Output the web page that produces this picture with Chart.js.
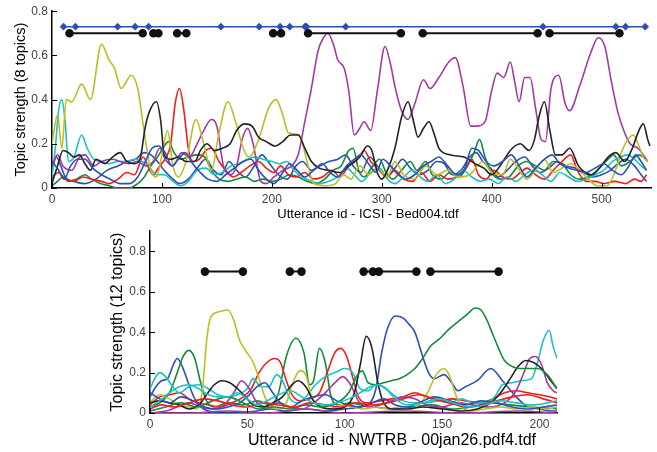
<!DOCTYPE html>
<html>
<head>
<meta charset="utf-8">
<script src="https://cdn.jsdelivr.net/npm/chart.js@4.4.1/dist/chart.umd.min.js"></script>
<style>
  body { margin: 0; background: #fff; width: 657px; height: 452px; position: relative; overflow: hidden; font-family: "Liberation Sans", Arial, sans-serif; }
  .box { position: absolute; }
  .xtitle { position: absolute; white-space: nowrap; transform: translateX(-50%); color: #000; }
</style>
</head>
<body>
<div class="box" style="left:0;top:0;width:657px;height:225px"><canvas id="topChart" width="657" height="225"></canvas></div>
<div class="box" style="left:100px;top:220px;width:470px;height:232px"><canvas id="bottomChart" width="470" height="232"></canvas></div>
<div class="xtitle" style="left:368px;top:206px;font-size:13px;line-height:16px">Utterance id - ICSI - Bed004.tdf</div>
<div class="xtitle" style="left:392px;top:430px;font-size:16px;line-height:19px">Utterance id - NWTRB - 00jan26.pdf4.tdf</div>
<script>
// ---- top plot: ICSI Bed004, 8 topics, [utterance, strength] ----
const topBlue1 = [[0,0.08],[4,0.14],[8,0.10],[12,0.05],[20,0.03],[30,0.02],[40,0.04],[50,0.08],[60,0.10],[68,0.12],[76,0.13],[84,0.16],[90,0.15],[96,0.12],[102,0.08],[110,0.04],[116,0.02],[124,0.04],[132,0.09],[140,0.13],[147,0.08],[154,0.06],[161,0.12],[168,0.08],[176,0.05],[184,0.10],[191,0.15],[198,0.11],[206,0.06],[214,0.04],[222,0.10],[228,0.12],[236,0.08],[244,0.10],[252,0.12],[260,0.13],[267,0.15],[274,0.10],[281,0.07],[289,0.14],[296,0.10],[304,0.05],[312,0.09],[319,0.13],[326,0.09],[334,0.06],[342,0.08],[350,0.12],[357,0.11],[364,0.06],[372,0.08],[380,0.14],[386,0.16],[392,0.12],[399,0.09],[406,0.05],[414,0.08],[422,0.12],[430,0.14],[437,0.10],[444,0.07],[452,0.09],[460,0.12],[468,0.10],[476,0.09],[484,0.07],[492,0.05],[500,0.06],[508,0.08],[515,0.11],[522,0.13],[530,0.10],[536,0.06],[541,0.03]];
const topGreen = [[0,0.01],[5,0.03],[10,0.05],[15,0.03],[22,0.04],[30,0.06],[36,0.04],[44,0.02],[52,0.01],[60,0.00],[70,0.00],[78,0.02],[84,0.05],[90,0.10],[96,0.14],[101,0.18],[106,0.21],[111,0.16],[117,0.13],[124,0.14],[132,0.15],[139,0.14],[145,0.08],[152,0.04],[160,0.03],[168,0.04],[176,0.05],[184,0.03],[192,0.04],[200,0.03],[208,0.04],[216,0.06],[224,0.05],[232,0.03],[240,0.02],[248,0.04],[256,0.08],[263,0.10],[270,0.17],[274,0.18],[279,0.08],[284,0.05],[292,0.10],[298,0.13],[304,0.07],[310,0.04],[318,0.08],[326,0.12],[332,0.08],[340,0.12],[346,0.06],[354,0.04],[362,0.07],[370,0.05],[378,0.10],[384,0.16],[389,0.22],[394,0.14],[400,0.07],[408,0.04],[416,0.05],[424,0.10],[432,0.12],[440,0.10],[448,0.08],[456,0.12],[464,0.11],[472,0.06],[480,0.04],[488,0.05],[496,0.08],[504,0.12],[511,0.15],[518,0.10],[526,0.12],[534,0.15],[541,0.13]];
const topRed = [[0,0.05],[6,0.07],[12,0.04],[20,0.03],[28,0.05],[36,0.04],[45,0.03],[52,0.02],[60,0.04],[68,0.07],[75,0.06],[83,0.14],[88,0.09],[92,0.06],[98,0.10],[104,0.14],[108,0.20],[112,0.38],[116,0.45],[120,0.35],[124,0.18],[128,0.12],[134,0.13],[140,0.17],[145,0.18],[152,0.12],[158,0.08],[165,0.05],[172,0.07],[180,0.10],[188,0.12],[195,0.09],[202,0.07],[208,0.10],[215,0.06],[222,0.05],[230,0.07],[238,0.04],[246,0.05],[255,0.08],[262,0.05],[270,0.10],[278,0.13],[284,0.17],[290,0.12],[298,0.08],[305,0.05],[312,0.08],[320,0.04],[328,0.03],[336,0.07],[344,0.03],[352,0.06],[360,0.04],[368,0.05],[376,0.09],[382,0.13],[388,0.06],[395,0.04],[402,0.08],[410,0.05],[418,0.04],[426,0.07],[432,0.09],[440,0.06],[448,0.04],[456,0.08],[464,0.12],[472,0.15],[478,0.08],[486,0.03],[494,0.03],[502,0.02],[512,0.03],[522,0.02],[530,0.04],[536,0.03],[541,0.06]];
const topCyan = [[0,0.05],[3,0.18],[6,0.35],[9,0.40],[12,0.30],[15,0.12],[20,0.14],[27,0.24],[32,0.18],[38,0.13],[45,0.12],[52,0.11],[60,0.12],[68,0.12],[75,0.13],[82,0.12],[88,0.10],[95,0.06],[102,0.06],[110,0.03],[117,0.01],[124,0.03],[132,0.08],[140,0.09],[148,0.06],[155,0.07],[163,0.10],[170,0.11],[178,0.13],[185,0.14],[192,0.13],[200,0.12],[207,0.11],[214,0.12],[220,0.08],[228,0.05],[236,0.03],[244,0.02],[252,0.03],[260,0.05],[268,0.09],[275,0.06],[282,0.03],[290,0.07],[298,0.09],[305,0.04],[312,0.02],[320,0.05],[328,0.08],[335,0.05],[342,0.03],[350,0.06],[358,0.02],[366,0.04],[374,0.08],[382,0.05],[390,0.03],[398,0.04],[406,0.02],[414,0.05],[422,0.03],[430,0.06],[438,0.08],[446,0.06],[454,0.03],[462,0.07],[470,0.05],[478,0.03],[486,0.04],[494,0.06],[502,0.08],[510,0.12],[517,0.14],[524,0.15],[530,0.13],[536,0.10],[541,0.08]];
const topMagenta = [[0,0.10],[5,0.15],[10,0.10],[18,0.08],[25,0.14],[30,0.15],[38,0.10],[45,0.12],[55,0.13],[62,0.12],[70,0.11],[78,0.12],[85,0.10],[92,0.12],[98,0.18],[103,0.13],[110,0.10],[118,0.16],[125,0.14],[132,0.20],[138,0.26],[145,0.31],[150,0.28],[156,0.10],[162,0.06],[168,0.10],[173,0.22],[178,0.27],[183,0.20],[190,0.03],[195,0.02],[202,0.05],[210,0.08],[218,0.10],[224,0.15],[230,0.30],[236,0.45],[242,0.62],[247,0.68],[251,0.70],[256,0.65],[260,0.58],[266,0.54],[270,0.44],[275,0.24],[280,0.27],[284,0.30],[290,0.26],[296,0.44],[303,0.64],[308,0.56],[312,0.46],[318,0.35],[324,0.31],[330,0.38],[338,0.49],[344,0.45],[352,0.50],[361,0.57],[367,0.59],[374,0.46],[381,0.28],[387,0.28],[394,0.30],[400,0.44],[405,0.52],[411,0.50],[417,0.57],[421,0.48],[425,0.39],[430,0.50],[435,0.50],[440,0.36],[445,0.22],[449,0.21],[454,0.45],[461,0.51],[467,0.38],[471,0.35],[480,0.46],[490,0.61],[497,0.68],[503,0.64],[509,0.48],[515,0.34],[521,0.25],[526,0.20],[533,0.18],[538,0.15],[542,0.12]];
const topYellow = [[0,0.20],[5,0.33],[9,0.18],[13,0.40],[18,0.39],[27,0.47],[35,0.40],[45,0.65],[52,0.58],[57,0.54],[63,0.45],[72,0.51],[78,0.45],[84,0.25],[90,0.08],[95,0.05],[100,0.15],[105,0.26],[110,0.10],[115,0.05],[122,0.12],[131,0.31],[138,0.20],[145,0.08],[152,0.25],[160,0.39],[167,0.30],[174,0.18],[179,0.14],[188,0.22],[197,0.36],[204,0.40],[210,0.33],[215,0.25],[225,0.24],[232,0.12],[238,0.02],[250,0.01],[258,0.02],[265,0.06],[272,0.04],[280,0.10],[288,0.06],[296,0.09],[305,0.05],[312,0.12],[320,0.06],[330,0.04],[340,0.10],[350,0.06],[360,0.08],[370,0.05],[380,0.06],[392,0.12],[400,0.07],[410,0.06],[417,0.13],[424,0.09],[432,0.04],[440,0.08],[448,0.13],[456,0.07],[464,0.09],[472,0.11],[480,0.08],[488,0.04],[496,0.01],[505,0.01],[512,0.07],[518,0.16],[524,0.22],[529,0.24],[534,0.19],[538,0.14],[542,0.12]];
const topBlack = [[0,0.02],[5,0.10],[10,0.17],[15,0.16],[20,0.14],[25,0.15],[30,0.11],[35,0.08],[40,0.13],[48,0.11],[55,0.14],[62,0.16],[68,0.12],[75,0.11],[80,0.13],[85,0.28],[89,0.35],[95,0.39],[99,0.30],[102,0.15],[108,0.13],[115,0.14],[122,0.12],[130,0.12],[135,0.17],[141,0.20],[148,0.17],[155,0.18],[162,0.20],[168,0.26],[175,0.29],[182,0.28],[188,0.23],[195,0.21],[203,0.19],[210,0.21],[217,0.24],[224,0.24],[230,0.18],[236,0.12],[243,0.09],[252,0.08],[262,0.07],[270,0.10],[280,0.14],[287,0.19],[291,0.17],[296,0.07],[300,0.04],[306,0.09],[312,0.18],[318,0.32],[324,0.39],[329,0.30],[333,0.23],[338,0.27],[343,0.30],[348,0.24],[352,0.18],[362,0.15],[375,0.14],[385,0.11],[393,0.09],[400,0.06],[409,0.11],[417,0.17],[426,0.20],[434,0.17],[439,0.22],[443,0.32],[448,0.39],[453,0.26],[458,0.15],[464,0.15],[471,0.18],[479,0.10],[485,0.07],[491,0.06],[498,0.09],[506,0.14],[513,0.16],[521,0.12],[528,0.18],[534,0.26],[538,0.29],[542,0.22],[544,0.19]];
const topBlue2 = [[0,0.12],[6,0.08],[11,0.04],[17,0.10],[23,0.13],[30,0.13],[37,0.09],[45,0.06],[53,0.04],[62,0.02],[70,0.02],[78,0.05],[85,0.12],[91,0.18],[97,0.19],[103,0.16],[109,0.10],[115,0.13],[121,0.16],[128,0.11],[135,0.07],[142,0.04],[150,0.03],[158,0.06],[166,0.09],[174,0.12],[181,0.13],[188,0.08],[195,0.04],[202,0.02],[210,0.07],[216,0.11],[223,0.08],[230,0.05],[238,0.08],[246,0.11],[253,0.07],[260,0.05],[268,0.10],[275,0.13],[281,0.15],[288,0.11],[295,0.07],[301,0.13],[308,0.10],[315,0.06],[322,0.04],[330,0.06],[338,0.10],[345,0.12],[352,0.14],[360,0.10],[368,0.06],[375,0.08],[382,0.18],[388,0.17],[395,0.12],[402,0.10],[410,0.12],[418,0.15],[425,0.10],[432,0.05],[440,0.09],[448,0.13],[455,0.15],[462,0.11],[470,0.09],[478,0.08],[486,0.07],[494,0.09],[502,0.11],[510,0.08],[518,0.06],[525,0.10],[531,0.15],[536,0.12],[541,0.08]];

// boundary markers (stars) and segment pairs (dots joined by a line)
const topStarLevel = 0.73;
const topStarU = [10.5, 21.3, 59.7, 75.6, 87.9, 153.7, 188.5, 207.5, 216.3, 230.2, 231.5, 267.2, 446.7, 513, 521.8, 539.7];
const topSegLevel = 0.70;
const topSegStart = [15.9, 92.2, 113.9, 201.2, 233, 337.3, 452.7];
const topSegEnd = [82.5, 96.8, 122.2, 208.4, 317.4, 441.8, 516.3];

// ---- bottom plot: NWTRB 00jan26, 12 topics ----
const botBlue1 = [[0,0.08],[3,0.13],[6,0.16],[9,0.17],[12,0.24],[14,0.27],[17,0.22],[20,0.14],[23,0.07],[26,0.03],[30,0.01],[36,0.00],[45,0.00],[55,0.01],[62,0.02],[70,0.01],[80,0.02],[90,0.01],[100,0.02],[108,0.03],[113,0.05],[116,0.12],[119,0.30],[122,0.42],[126,0.48],[130,0.47],[133,0.44],[136,0.40],[140,0.28],[143,0.20],[146,0.17],[151,0.19],[155,0.15],[158,0.11],[162,0.13],[168,0.16],[175,0.22],[181,0.16],[188,0.08],[194,0.03],[200,0.02],[205,0.01],[209,0.01]];
const botGreen1 = [[0,0.03],[5,0.05],[10,0.10],[14,0.20],[17,0.28],[20,0.31],[23,0.27],[26,0.15],[29,0.06],[33,0.03],[40,0.05],[48,0.04],[55,0.06],[62,0.04],[66,0.10],[70,0.28],[75,0.37],[79,0.30],[82,0.14],[84,0.16],[87,0.32],[90,0.25],[93,0.08],[97,0.04],[103,0.05],[108,0.04],[115,0.03],[125,0.02],[135,0.03],[145,0.04],[155,0.02],[165,0.03],[175,0.05],[185,0.04],[195,0.03],[209,0.02]];
const botRed1 = [[0,0.04],[5,0.08],[10,0.09],[15,0.10],[20,0.07],[25,0.05],[30,0.04],[36,0.03],[42,0.05],[48,0.08],[52,0.12],[56,0.20],[60,0.25],[64,0.27],[67,0.25],[70,0.16],[73,0.09],[77,0.06],[82,0.07],[87,0.10],[91,0.20],[95,0.30],[98,0.32],[101,0.28],[104,0.18],[107,0.08],[112,0.05],[118,0.06],[124,0.07],[130,0.08],[136,0.10],[142,0.08],[148,0.06],[155,0.07],[162,0.06],[170,0.05],[176,0.07],[182,0.10],[188,0.11],[194,0.10],[200,0.09],[205,0.08],[209,0.07]];
const botCyan1 = [[0,0.12],[3,0.18],[5,0.20],[8,0.18],[11,0.14],[15,0.10],[20,0.13],[25,0.14],[30,0.12],[35,0.09],[40,0.08],[45,0.09],[50,0.12],[53,0.17],[57,0.13],[61,0.13],[65,0.19],[68,0.16],[72,0.07],[76,0.05],[80,0.08],[85,0.14],[90,0.18],[95,0.20],[100,0.22],[104,0.20],[108,0.12],[112,0.11],[116,0.14],[120,0.13],[125,0.09],[130,0.06],[136,0.05],[142,0.05],[148,0.06],[154,0.05],[160,0.07],[166,0.05],[172,0.05],[177,0.08],[181,0.14],[186,0.15],[191,0.16],[196,0.17],[199,0.25],[202,0.36],[205,0.41],[207,0.33],[209,0.27]];
const botMagenta1 = [[0,0.00],[8,0.01],[14,0.03],[20,0.05],[26,0.03],[32,0.02],[38,0.04],[43,0.10],[47,0.16],[51,0.12],[55,0.05],[60,0.03],[66,0.05],[72,0.03],[78,0.02],[84,0.05],[90,0.10],[95,0.15],[99,0.18],[103,0.14],[107,0.06],[112,0.03],[118,0.04],[124,0.06],[130,0.08],[136,0.07],[142,0.04],[150,0.03],[158,0.05],[166,0.04],[174,0.03],[182,0.05],[188,0.11],[192,0.20],[195,0.27],[198,0.28],[201,0.24],[204,0.15],[207,0.11],[209,0.10]];
const botYellow = [[0,0.05],[5,0.09],[10,0.07],[15,0.04],[20,0.03],[24,0.02],[27,0.12],[29,0.35],[31,0.47],[35,0.50],[40,0.51],[43,0.46],[46,0.36],[49,0.31],[53,0.25],[56,0.17],[59,0.08],[62,0.03],[66,0.02],[70,0.05],[73,0.14],[77,0.21],[80,0.19],[83,0.08],[87,0.03],[92,0.02],[98,0.04],[104,0.03],[110,0.02],[116,0.03],[122,0.02],[128,0.03],[134,0.02],[139,0.05],[143,0.11],[147,0.19],[151,0.22],[154,0.18],[157,0.09],[160,0.03],[165,0.01],[172,0.02],[180,0.03],[188,0.02],[196,0.03],[204,0.02],[209,0.03]];
const botBlack = [[0,0.05],[5,0.06],[10,0.05],[15,0.04],[20,0.02],[25,0.04],[29,0.09],[33,0.14],[37,0.16],[41,0.15],[45,0.12],[49,0.08],[53,0.04],[58,0.03],[63,0.05],[68,0.08],[72,0.13],[76,0.16],[80,0.13],[84,0.06],[88,0.03],[94,0.02],[100,0.03],[105,0.10],[108,0.24],[111,0.38],[114,0.32],[117,0.15],[120,0.05],[125,0.02],[132,0.02],[140,0.03],[150,0.02],[160,0.01],[168,0.02],[175,0.05],[180,0.10],[185,0.17],[189,0.23],[193,0.26],[197,0.25],[201,0.22],[205,0.17],[209,0.12]];
const botBlue2 = [[0,0.10],[5,0.07],[10,0.05],[16,0.08],[22,0.06],[28,0.03],[34,0.02],[40,0.03],[46,0.05],[51,0.09],[55,0.13],[59,0.15],[63,0.10],[67,0.05],[72,0.03],[78,0.06],[84,0.08],[90,0.09],[96,0.06],[102,0.04],[108,0.03],[114,0.05],[120,0.07],[126,0.04],[132,0.03],[138,0.05],[146,0.08],[154,0.06],[162,0.04],[170,0.06],[178,0.05],[186,0.03],[194,0.02],[202,0.03],[209,0.04]];
const botGreen2 = [[0,0.01],[8,0.03],[16,0.05],[24,0.03],[32,0.06],[40,0.08],[48,0.05],[56,0.02],[64,0.03],[72,0.02],[80,0.04],[88,0.03],[96,0.05],[102,0.10],[106,0.18],[109,0.21],[112,0.15],[116,0.14],[120,0.15],[124,0.16],[128,0.17],[132,0.19],[136,0.22],[140,0.27],[144,0.33],[149,0.37],[153,0.41],[158,0.45],[163,0.49],[167,0.52],[170,0.51],[173,0.46],[176,0.39],[179,0.32],[182,0.26],[186,0.23],[190,0.22],[195,0.22],[199,0.22],[204,0.19],[207,0.15],[209,0.12]];
const botRed2 = [[0,0.02],[6,0.04],[12,0.03],[20,0.05],[28,0.07],[35,0.06],[42,0.04],[50,0.03],[58,0.05],[66,0.04],[74,0.03],[82,0.05],[90,0.04],[98,0.03],[106,0.05],[114,0.04],[122,0.05],[130,0.07],[138,0.09],[146,0.07],[154,0.05],[162,0.03],[170,0.04],[178,0.06],[186,0.08],[194,0.09],[202,0.07],[209,0.05]];
const botCyan2 = [[0,0.03],[5,0.06],[10,0.10],[15,0.13],[20,0.14],[25,0.12],[30,0.09],[35,0.08],[40,0.08],[45,0.10],[50,0.07],[55,0.04],[60,0.06],[66,0.09],[72,0.11],[78,0.08],[84,0.05],[90,0.04],[96,0.05],[102,0.07],[108,0.10],[113,0.13],[117,0.14],[121,0.12],[126,0.07],[132,0.04],[140,0.05],[148,0.07],[156,0.05],[164,0.03],[172,0.04],[180,0.06],[188,0.05],[196,0.04],[204,0.05],[209,0.06]];
const botMagenta2 = [[0,0.00],[20,0.00],[40,0.01],[60,0.00],[80,0.02],[100,0.00],[130,0.01],[160,0.00],[190,0.01],[209,0.00]];

const botSegLevel = 0.70;
const botSegStart = [28.2, 71.8, 109.7, 117.5, 144];
const botSegEnd = [47.7, 77.8, 114.5, 136.8, 179];

// matlab-ish colour order b g r c m y k
const BLUE = '#2c4fb3', GREEN = '#138a3a', RED = '#f21c1c', CYAN = '#1cc2c2',
      MAGENTA = '#a33aa3', YELLOW = '#bdbd24', BLACK = '#222222';
const FONT = "'Liberation Sans', Arial, sans-serif";
Chart.defaults.font.family = FONT;

// ticks pointing into the plot, like matlab
const innerTicks = {
  id: 'innerTicks',
  afterDraw(chart) {
    const { ctx, chartArea, scales } = chart;
    ctx.save();
    ctx.strokeStyle = '#000';
    ctx.lineWidth = 1;
    ctx.beginPath();
    scales.x.ticks.forEach(t => {
      const px = Math.round(scales.x.getPixelForValue(t.value)) + 0.5;
      ctx.moveTo(px, chartArea.bottom);
      ctx.lineTo(px, chartArea.bottom - 5);
    });
    scales.y.ticks.forEach(t => {
      const py = Math.round(scales.y.getPixelForValue(t.value)) + 0.5;
      ctx.moveTo(chartArea.left, py);
      ctx.lineTo(chartArea.left + 5, py);
    });
    ctx.stroke();
    ctx.restore();
  }
};

function segmentPoints(starts, ends, level) {
  const pts = [];
  starts.forEach((s, i) => {
    pts.push({ x: s, y: level }, { x: ends[i], y: level }, { x: ends[i], y: null });
  });
  return pts;
}

function makeChart(id, cfg) {
  const datasets = cfg.series.map((pts, i) => ({
    data: pts.map(([x, y]) => ({ x, y })),
    borderColor: cfg.colors[i],
    borderWidth: 1.6,
    pointRadius: 0,
    cubicInterpolationMode: 'monotone',
    fill: false
  }));
  if (cfg.stars) {
    datasets.push({
      data: cfg.stars.u.map(u => ({ x: u, y: cfg.stars.level })),
      borderColor: BLUE,
      backgroundColor: BLUE,
      borderWidth: 1.5,
      pointStyle: 'rectRot',
      pointRadius: 2.8,
      tension: 0
    });
  }
  datasets.push({
    data: segmentPoints(cfg.seg.start, cfg.seg.end, cfg.seg.level),
    borderColor: '#111',
    backgroundColor: '#111',
    borderWidth: 2,
    pointStyle: 'circle',
    pointRadius: 3.3,
    tension: 0,
    spanGaps: false
  });
  // chart.js paints dataset 0 last, so flip to keep the later lines on top
  datasets.reverse();

  const tickFont = { size: 12, family: FONT };
  return new Chart(document.getElementById(id), {
    type: 'line',
    data: { datasets },
    plugins: [innerTicks],
    options: {
      responsive: false,
      animation: false,
      layout: { padding: cfg.padding },
      plugins: { legend: { display: false }, tooltip: { enabled: false } },
      scales: {
        x: {
          type: 'linear', min: 0, max: cfg.xMax,
          ticks: { stepSize: cfg.xStep, includeBounds: false, padding: 4, maxRotation: 0, autoSkip: false, color: '#444', font: tickFont },
          grid: { display: false, drawTicks: false },
          border: { color: '#000', width: 1.5 },
          afterFit: s => { s.height = cfg.xHeight; }
        },
        y: {
          min: 0, max: cfg.yMax,
          ticks: { stepSize: 0.2, includeBounds: false, padding: 4, color: '#444', font: tickFont },
          grid: { display: false, drawTicks: false },
          border: { color: '#000', width: 1.5 },
          title: { display: true, text: cfg.yTitle, color: '#000', font: { size: cfg.yTitleSize, family: FONT }, padding: { top: cfg.yTitlePad, bottom: 0 } },
          afterFit: s => { s.width = cfg.yWidth; }
        }
      }
    }
  });
}

makeChart('topChart', {
  series: [topBlue1, topGreen, topRed, topCyan, topMagenta, topYellow, topBlack, topBlue2],
  colors: [BLUE, GREEN, RED, CYAN, MAGENTA, YELLOW, BLACK, BLUE],
  stars: { u: topStarU, level: topStarLevel },
  seg: { start: topSegStart, end: topSegEnd, level: topSegLevel },
  xMax: 545, xStep: 100, yMax: 0.8,
  xHeight: 37, yWidth: 52,
  padding: { left: 0, top: 7, right: 4, bottom: 0 },
  yTitle: 'Topic strength (8 topics)', yTitleSize: 14.5, yTitlePad: 12
});

makeChart('bottomChart', {
  series: [botBlue1, botGreen1, botRed1, botCyan1, botMagenta1, botYellow, botBlack, botBlue2, botGreen2, botRed2, botCyan2, botMagenta2],
  colors: [BLUE, GREEN, RED, CYAN, MAGENTA, YELLOW, BLACK, BLUE, GREEN, RED, CYAN, MAGENTA],
  seg: { start: botSegStart, end: botSegEnd, level: botSegLevel },
  xMax: 209, xStep: 50, yMax: 0.9,
  xHeight: 39, yWidth: 50,
  padding: { left: 0, top: 6, right: 13, bottom: 0 },
  yTitle: 'Topic strength (12 topics)', yTitleSize: 16, yTitlePad: 8
});
</script>
</body>
</html>
